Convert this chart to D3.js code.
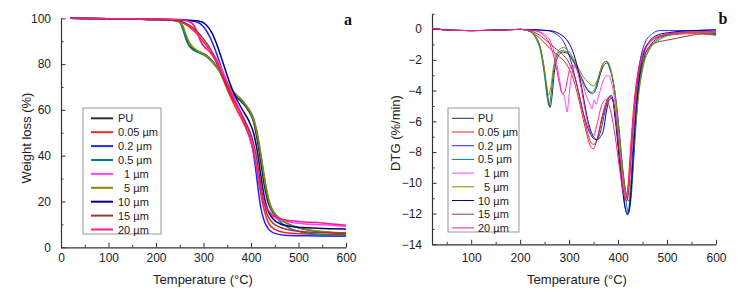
<!DOCTYPE html>
<html><head><meta charset="utf-8">
<script src="https://cdn.jsdelivr.net/npm/d3@7"></script>
<style>
html,body{margin:0;padding:0;background:#fff;}
svg{display:block;font-family:"Liberation Sans",Arial,sans-serif;}
.leg text{white-space:pre;}
</style></head>
<body>
<svg id="chart" width="739" height="297"></svg>
<script>
// ---------- data ----------
const seriesNames = ["PU","0.05 \u00b5m","0.2 \u00b5m","0.5 \u00b5m","  1 \u00b5m","  5 \u00b5m","10 \u00b5m","15 \u00b5m","20 \u00b5m"];
const seriesColors = ["#2b2b2b","#ff2020","#2323ff","#008080","#ff40ff","#8a8a00","#000080","#993838","#ff1a8c"];

const xTicksA = [0,100,200,300,400,500,600];
const yTicksA = [0,20,40,60,80,100];
const xTicksB = [100,200,300,400,500,600];
const yTicksB = [0,-2,-4,-6,-8,-10,-12,-14];

// TGA (weight %) [temperature, value]
const tgaPU = [[20,100],[100,99.8],[200,99.5],[240,99.2],[250,98.4],[256,96],[262,92],[268,89],[276,87],[290,85.5],[305,84],[320,81],[335,76.5],[350,71],[365,66.5],[380,63.5],[395,59.5],[405,55],[413,47],[420,38],[428,27],[436,19.5],[445,15.5],[460,12.5],[480,10],[500,8.5],[530,7.2],[570,6.4],[600,6.0]];
const tga005 = [[20,100],[100,99.8],[200,99.5],[230,99.2],[250,98.5],[265,97],[280,94.5],[295,91],[310,87],[325,81.5],[340,74],[355,66.5],[370,60],[385,54],[397,48],[406,41],[413,33],[420,24],[428,16],[436,11],[448,8],[470,6.5],[520,5.8],[600,5.5]];
const tga02 = [[20,100],[100,99.8],[200,99.5],[260,99.2],[285,98.5],[300,96.3],[313,92],[326,85.5],[340,77],[353,69.5],[366,63.5],[380,58],[392,52.5],[401,46],[408,37],[414,27],[420,18],[427,12],[435,8.5],[447,6.3],[470,5.3],[520,5],[600,4.8]];
const tga05 = [[20,100],[100,99.8],[200,99.5],[240,99.1],[250,98.2],[256,95.5],[262,91.5],[268,88.5],[276,86.5],[290,85],[305,83.5],[320,80.5],[335,76.5],[350,71.5],[365,67],[380,64],[395,60.5],[405,56.5],[414,49],[422,39],[430,28],[438,20],[446,15.5],[460,11.5],[480,8.5],[500,7],[530,5.8],[570,5.2],[600,5.0]];
const tga1 = [[20,100],[100,99.8],[200,99.6],[250,99.3],[270,98.6],[280,97],[288,93.5],[295,89.5],[302,87.5],[312,86],[325,83],[340,77],[355,70],[370,63],[385,56],[397,49],[406,42],[413,34],[420,26],[428,19.5],[437,15.5],[450,13],[470,11.5],[500,10.5],[550,9.8],[600,9.2]];
const tga5 = [[20,100],[100,99.8],[200,99.5],[240,99.2],[250,98.6],[257,96.5],[263,93],[270,89.5],[280,87],[295,85],[310,83],[325,79.5],[340,75],[355,70],[370,66.5],[385,63.5],[398,59],[408,54],[416,46],[424,36],[432,26],[440,19],[448,15.5],[462,12.5],[480,10],[500,8.5],[530,7.3],[570,6.6],[600,6.3]];
const tga10 = [[20,100],[100,99.8],[200,99.5],[260,99.3],[290,98.8],[305,97.3],[318,93.5],[330,87.5],[342,80],[355,72],[368,65.5],[382,60],[396,55],[406,49.5],[414,41],[421,31],[428,22],[436,16],[446,12.5],[462,10.2],[490,9],[540,8.3],[600,8.0]];
const tga15 = [[20,100],[100,99.8],[200,99.5],[230,99.3],[250,98.8],[270,97],[285,94.5],[300,91],[315,86.5],[330,80],[345,72.5],[360,65.5],[375,60],[390,54],[402,48],[411,40],[418,31],[425,22],[433,15],[442,11.5],[458,9],[480,7.7],[520,6.7],[600,6.1]];
const tga20 = [[20,100],[100,99.8],[200,99.7],[250,99.5],[265,99],[277,97.5],[286,94],[294,90],[302,87.5],[312,85.5],[325,82],[340,76],[355,69],[370,62],[385,55],[397,48],[406,41],[413,33],[420,25.5],[428,19.5],[437,16],[450,13.5],[470,12],[500,11.3],[550,10.6],[600,9.6]];

// DTG (%/min) [temperature, value]
const dtgPU = [[20,0.05],[60,-0.08],[100,-0.1],[150,-0.07],[200,-0.02],[220,-0.15],[232,-0.5],[242,-1.3],[250,-2.8],[256,-4.3],[261,-5.1],[265,-4.4],[270,-2.8],[277,-1.8],[287,-1.5],[297,-1.6],[310,-2.2],[325,-3.2],[338,-4.0],[348,-4.2],[356,-3.8],[364,-2.9],[372,-2.3],[378,-2.2],[385,-2.7],[393,-4],[402,-6.5],[410,-9.2],[417,-10.8],[423,-11.2],[429,-9.5],[436,-6],[443,-3.5],[452,-2],[465,-1.1],[480,-0.6],[500,-0.35],[530,-0.2],[560,-0.2],[600,-0.3]];
const dtg005 = [[20,0.05],[60,-0.08],[100,-0.1],[150,-0.07],[200,-0.02],[220,-0.15],[235,-0.45],[250,-0.9],[265,-1.4],[280,-1.8],[295,-2.3],[308,-3.2],[320,-4.6],[332,-6.3],[342,-7.5],[349,-7.8],[356,-7.3],[365,-6],[374,-4.9],[382,-4.4],[388,-4.5],[395,-5.8],[402,-8],[409,-10.2],[414,-11.1],[419,-10.6],[425,-8],[432,-5],[441,-2.7],[452,-1.4],[470,-0.7],[500,-0.4],[550,-0.3],[600,-0.4]];
const dtg02 = [[20,0.05],[60,-0.08],[100,-0.1],[150,-0.07],[200,-0.02],[255,-0.1],[275,-0.35],[290,-0.9],[303,-2],[315,-3.5],[327,-5.2],[339,-6.5],[349,-7.1],[356,-7.2],[363,-6.8],[371,-5.7],[379,-4.6],[386,-4.3],[392,-5],[399,-7],[406,-9.4],[413,-11.3],[419,-12.1],[424,-11.1],[430,-7.8],[437,-4.3],[445,-2.1],[455,-0.9],[470,-0.3],[485,-0.1],[520,-0.1],[560,-0.1],[600,-0.05]];
const dtg05 = [[20,0.05],[60,-0.08],[100,-0.1],[150,-0.07],[200,-0.02],[220,-0.15],[232,-0.6],[242,-1.5],[250,-3.1],[255,-4.4],[259,-5.0],[263,-4.3],[268,-2.8],[275,-1.7],[286,-1.4],[296,-1.5],[310,-2.1],[325,-3.1],[337,-3.9],[346,-4.1],[355,-3.7],[363,-2.8],[370,-2.2],[376,-2.1],[383,-2.6],[392,-3.8],[400,-6],[408,-8.8],[415,-10.9],[421,-11.9],[426,-11.2],[433,-8],[440,-4.8],[449,-2.6],[462,-1.4],[480,-0.7],[500,-0.4],[530,-0.25],[560,-0.2],[600,-0.25]];
const dtg1 = [[20,0.05],[60,-0.08],[100,-0.1],[150,-0.07],[200,-0.02],[230,-0.1],[250,-0.35],[262,-0.8],[272,-1.8],[280,-3.2],[286,-4.2],[290,-4.3],[293,-4.9],[296,-5.4],[299,-4.6],[304,-3.2],[310,-2.5],[318,-2.7],[328,-3.6],[337,-4.5],[343,-4.9],[347,-5.2],[351,-4.6],[355,-4.9],[360,-4.4],[367,-3.6],[374,-3.1],[380,-3.0],[386,-3.4],[393,-4.6],[401,-7],[409,-9.5],[415,-10.8],[420,-10.9],[425,-9.3],[432,-6.3],[440,-3.6],[450,-1.9],[465,-0.9],[490,-0.4],[530,-0.2],[600,-0.2]];
const dtg5 = [[20,0.05],[60,-0.08],[100,-0.1],[150,-0.07],[200,-0.02],[220,-0.15],[232,-0.5],[242,-1.3],[250,-2.7],[255,-3.8],[258,-4.3],[262,-3.9],[268,-2.5],[276,-1.5],[288,-1.2],[298,-1.4],[312,-2.1],[327,-3],[340,-3.5],[350,-3.7],[358,-3.3],[366,-2.5],[372,-2.15],[378,-2.1],[385,-2.6],[393,-4],[402,-6.8],[410,-9.4],[416,-10.7],[421,-11],[427,-9.8],[434,-7],[442,-4.3],[451,-2.5],[465,-1.3],[480,-0.8],[500,-0.45],[530,-0.3],[560,-0.2],[600,-0.2]];
const dtg10 = [[20,0.05],[60,-0.08],[100,-0.1],[150,-0.07],[200,-0.02],[260,-0.1],[280,-0.3],[295,-0.7],[307,-1.4],[318,-2.6],[328,-4.2],[338,-5.9],[348,-6.9],[357,-7.2],[364,-7],[370,-6.6],[376,-5.4],[382,-4.6],[388,-4.5],[394,-5.8],[402,-8.3],[410,-10.7],[416,-11.8],[421,-12.0],[426,-10.8],[432,-7.6],[439,-4.4],[448,-2.2],[460,-1],[480,-0.4],[510,-0.2],[550,-0.1],[600,-0.05]];
const dtg15 = [[20,0.05],[60,-0.08],[100,-0.1],[150,-0.07],[200,-0.02],[225,-0.15],[240,-0.4],[255,-0.8],[270,-1.2],[285,-1.6],[300,-2.2],[313,-3.3],[325,-4.9],[336,-6.5],[345,-7.4],[351,-7.5],[358,-7.1],[367,-5.9],[376,-4.9],[384,-4.4],[390,-4.7],[397,-6.3],[405,-8.8],[412,-10.7],[417,-11.2],[422,-10.3],[428,-7.5],[435,-4.6],[445,-2.5],[458,-1.4],[475,-0.9],[495,-0.75],[520,-0.6],[550,-0.4],[575,-0.3],[600,-0.35]];
const dtg20 = [[20,0.05],[60,-0.08],[100,-0.1],[150,-0.07],[200,-0.02],[230,-0.1],[248,-0.4],[262,-1.1],[272,-2.2],[280,-3.5],[286,-4.2],[291,-4.1],[297,-3.2],[304,-2.4],[312,-2.4],[322,-3.4],[333,-5.3],[342,-6.6],[349,-7.0],[357,-6.2],[366,-5],[375,-4.6],[381,-4.9],[388,-5.8],[396,-7.4],[404,-9.3],[411,-10.7],[416,-11],[421,-10.2],[428,-7],[436,-4],[446,-2.1],[460,-1],[480,-0.5],[520,-0.25],[600,-0.15]];

const tgaSeries = [tgaPU,tga005,tga02,tga05,tga1,tga5,tga10,tga15,tga20];
const dtgSeries = [dtgPU,dtg005,dtg02,dtg05,dtg1,dtg5,dtg10,dtg15,dtg20];

// ---------- drawing ----------
const svg = d3.select("#chart");
const txt = "#222";

function panel(opts){
  const {x, y, xTicks, xMinor, yTicks, yMinor, data, lw, xPad, legend, letter, ytitle} = opts;
  const g = svg.append("g");
  // minor ticks
  g.append("g").attr("transform",`translate(0,${y.range()[0]})`)
    .call(d3.axisBottom(x).tickValues(xMinor).tickSize(-2.5).tickFormat(""))
    .call(s=>s.select(".domain").remove());
  g.append("g").attr("transform",`translate(${x.range()[0]},0)`)
    .call(d3.axisLeft(y).tickValues(yMinor).tickSize(-2.5).tickFormat(""))
    .call(s=>s.select(".domain").remove());
  // major
  const xa = g.append("g").attr("transform",`translate(0,${y.range()[0]})`)
    .call(d3.axisBottom(x).tickValues(xTicks).tickSizeInner(-4.5).tickSizeOuter(0).tickPadding(xPad));
  const ya = g.append("g").attr("transform",`translate(${x.range()[0]},0)`)
    .call(d3.axisLeft(y).tickValues(yTicks).tickSizeInner(-4.5).tickSizeOuter(0).tickPadding(10));
  g.selectAll(".tick line").attr("stroke","#333");
  g.selectAll(".domain").attr("stroke","#333").attr("stroke-width",1.2);
  g.selectAll(".tick text").attr("font-size",12).attr("fill",txt)
    .attr("font-family","'Liberation Sans',Arial,sans-serif");

  const line = d3.line().x(d=>x(d[0])).y(d=>y(d[1])).curve(d3.curveMonotoneX);
  data.forEach((s,i)=>{
    g.append("path").attr("d",line(s)).attr("fill","none")
      .attr("stroke",seriesColors[i]).attr("stroke-width",lw)
      .attr("stroke-linejoin","round");
  });

  // legend
  const L = g.append("g").attr("class","leg");
  L.append("rect").attr("x",legend.x0).attr("y",legend.y0)
    .attr("width",legend.x1-legend.x0).attr("height",legend.y1-legend.y0)
    .attr("fill","#fff").attr("stroke","#999").attr("stroke-width",1);
  seriesNames.forEach((n,i)=>{
    const yy = legend.r0 + i*legend.dr;
    L.append("line").attr("x1",legend.l0).attr("x2",legend.l1).attr("y1",yy).attr("y2",yy)
      .attr("stroke",seriesColors[i]).attr("stroke-width",legend.lw);
    L.append("text").attr("x",legend.tx).attr("y",yy+4).attr("font-size",11)
      .attr("fill",txt).text(n);
  });

  // letter
  svg.append("text").attr("x",letter.x).attr("y",letter.y).attr("text-anchor","middle")
    .attr("font-family","'Liberation Serif','Times New Roman',serif").attr("font-weight","bold")
    .attr("font-size",16).attr("fill","#111").text(letter.t);
  // titles
  const xm = (x.range()[0]+x.range()[1])/2;
  svg.append("text").attr("x",opts.xtitleX).attr("y",284).attr("text-anchor","middle")
    .attr("font-size",13).attr("fill",txt).text("Temperature (\u00b0C)");
  svg.append("text").attr("transform",`translate(${ytitle.x},${ytitle.y}) rotate(-90)`)
    .attr("text-anchor","middle").attr("font-size",13).attr("fill",txt).text(ytitle.t);
}

const xA = d3.scaleLinear().domain([0,600]).range([61,346]);
const yA = d3.scaleLinear().domain([0,100]).range([247.3,18.3]);
panel({
  x:xA, y:yA, xTicks:xTicksA, xMinor:[50,150,250,350,450,550],
  yTicks:yTicksA, yMinor:[10,30,50,70,90], data:tgaSeries, lw:1.5, xPad:6.5,
  legend:{x0:83,x1:161,y0:108,y1:234,r0:118.3,dr:13.9,l0:91,l1:113,tx:118,lw:2},
  letter:{x:348,y:25,t:"a"}, xtitleX:203,
  ytitle:{x:31,y:138,t:"Weight loss (%)"}
});

const xB = d3.scaleLinear().domain([20,600]).range([432,716]);
const yB = d3.scaleLinear().domain([-14,1]).range([244.3,13.7]);
panel({
  x:xB, y:yB, xTicks:xTicksB, xMinor:[50,150,250,350,450,550],
  yTicks:yTicksB, yMinor:[1,-1,-3,-5,-7,-9,-11,-13], data:dtgSeries, lw:1, xPad:9,
  legend:{x0:448,x1:519,y0:108,y1:232,r0:118.3,dr:13.7,l0:452,l1:474,tx:478,lw:1},
  letter:{x:723,y:24,t:"b"}, xtitleX:577,
  ytitle:{x:400,y:133,t:"DTG (%/min)"}
});
</script>
</body></html>
